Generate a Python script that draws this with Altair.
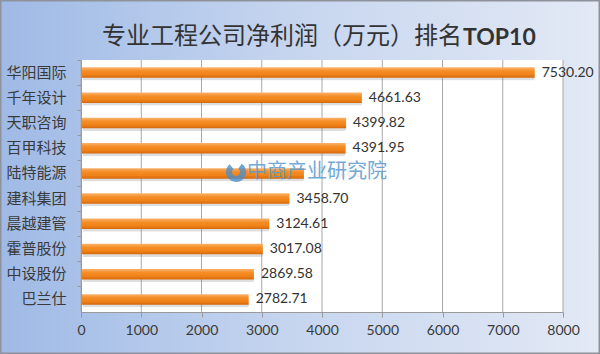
import altair as alt
import pandas as pd

companies = ["华阳国际", "千年设计", "天职咨询", "百甲科技", "陆特能源",
             "建科集团", "晨越建管", "霍普股份", "中设股份", "巴兰仕"]
profits = [7530.20, 4661.63, 4399.82, 4391.95, 3700.00,
           3458.70, 3124.61, 3017.08, 2869.58, 2782.71]
x_ticks = [0, 1000, 2000, 3000, 4000, 5000, 6000, 7000, 8000]
title_cn = "专业工程公司净利润（万元）排名"
title_en = "TOP10"
watermark_text = "中商产业研究院"
hidden_label = "陆特能源"

W, H = 482, 252
PAD = {"left": 81, "top": 60, "right": 37, "bottom": 42}

df = pd.DataFrame({"company": companies, "profit": profits})
df["label"] = [f"{v:.2f}" for v in profits]
grid_df = pd.DataFrame({"tick": x_ticks})
one = pd.DataFrame({"k": [0]})

xscale = alt.Scale(domain=[0, 8000], nice=False)
yscale = alt.Scale(domain=companies, paddingInner=0, paddingOuter=0)

x_axis = alt.Axis(values=x_ticks, format="d", grid=False, zindex=1,
                  labelFlush=False, labelOverlap=False,
                  domainColor="#9a9a9a", tickColor="#9a9a9a",
                  tickSize=5, labelPadding=6, labelFontSize=14,
                  labelColor="#3a3a3a", labelFont="Lato")
y_axis = alt.Axis(domainColor="#9a9a9a", tickColor="#9a9a9a", zindex=1,
                  tickSize=4, bandPosition=0, labelPadding=11,
                  labelFontSize=15, labelColor="#3a3a3a",
                  labelFont="Noto Sans CJK SC")

bg = alt.Chart(one).mark_rect(
    fill=alt.Gradient(gradient="linear", x1=0, x2=1, y1=0, y2=0,
                      stops=[alt.GradientStop(color="#9fbae6", offset=0),
                             alt.GradientStop(color="#c7d6ef", offset=0.5),
                             alt.GradientStop(color="#e3e9f5", offset=1)]),
    stroke="#8d929b", strokeWidth=3
).encode(x=alt.value(-PAD["left"]), x2=alt.value(W + PAD["right"]),
         y=alt.value(-PAD["top"]), y2=alt.value(H + PAD["bottom"]))

plot_bg = alt.Chart(one).mark_rect(fill="white").encode(
    x=alt.value(0), x2=alt.value(W), y=alt.value(0), y2=alt.value(H))

grid = alt.Chart(grid_df).mark_rule(color="#a8a8a8", strokeWidth=1).encode(
    x=alt.X("tick:Q", scale=xscale, title=None, axis=x_axis),
    y=alt.value(0), y2=alt.value(H))

shadow = alt.Chart(df).mark_bar(size=10, color="#7a7a7a", opacity=0.25,
                                yOffset=3, xOffset=2, cornerRadius=2).encode(
    x=alt.X("profit:Q", scale=xscale, title=None, axis=x_axis),
    y=alt.Y("company:N", scale=yscale, sort=None, title=None, axis=y_axis))

bars = alt.Chart(df).mark_bar(
    size=10.5,
    fill=alt.Gradient(gradient="linear", x1=0, x2=0, y1=0, y2=1,
                      stops=[alt.GradientStop(color="#f9b36e", offset=0),
                             alt.GradientStop(color="#f58d25", offset=0.35),
                             alt.GradientStop(color="#ef8218", offset=0.7),
                             alt.GradientStop(color="#d4680c", offset=1)])
).encode(
    x=alt.X("profit:Q", scale=xscale, title=None, axis=x_axis),
    y=alt.Y("company:N", scale=yscale, sort=None, title=None, axis=y_axis))

labels = alt.Chart(df).mark_text(align="left", baseline="middle", dx=7,
                                 fontSize=14, font="Lato", color="#333333").encode(
    x=alt.X("profit:Q", scale=xscale, title=None, axis=x_axis),
    y=alt.Y("company:N", scale=yscale, sort=None, title=None, axis=y_axis),
    text="label:N",
    opacity=alt.condition(alt.datum.company == hidden_label,
                          alt.value(0.08), alt.value(1)))

title1 = alt.Chart(one).mark_text(text=title_cn, fontSize=24,
                                  font="Noto Sans CJK SC", color="#333333",
                                  align="right", baseline="middle").encode(
    x=alt.value(381), y=alt.value(-23))
title2 = alt.Chart(one).mark_text(text=title_en, fontSize=23, fontWeight="bold",
                                  font="Lato", color="#333333",
                                  align="left", baseline="middle").encode(
    x=alt.value(382), y=alt.value(-22))

wm_logo = alt.Chart(one).mark_arc(innerRadius=4, outerRadius=10, theta=0.6,
                                  theta2=5.6, color="#4d8fc7", opacity=0.8).encode(
    x=alt.value(155), y=alt.value(112))

watermark = alt.Chart(one).mark_text(text=watermark_text, fontSize=20,
                                     font="Noto Sans CJK SC", color="#5b9bd0",
                                     opacity=0.85, align="left",
                                     baseline="middle").encode(
    x=alt.value(166), y=alt.value(112))

chart = alt.layer(bg, plot_bg, grid, shadow, bars, labels, title1, title2,
                  wm_logo, watermark).properties(
    width=W, height=H, padding=PAD,
    autosize=alt.AutoSizeParams(type="none"),
    background="#c9d7ef"
).configure_view(stroke=None)

chart.save("out.html", embed_options={"renderer": "svg", "actions": False})
